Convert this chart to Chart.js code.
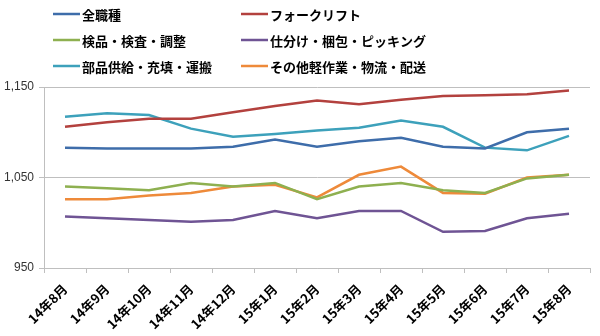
<!DOCTYPE html>
<html>
<head>
<meta charset="utf-8">
<script src="https://cdn.jsdelivr.net/npm/chart.js@4/dist/chart.umd.min.js"></script>
<style>
  html, body { margin: 0; padding: 0; background: #fff; }
  #wrap { width: 600px; height: 336px; position: relative; }
</style>
</head>
<body>
<div id="wrap"><canvas id="c"></canvas></div>
<script>
// Monthly categories (x axis)
const months = ['14年8月', '14年9月', '14年10月', '14年11月', '14年12月', '15年1月', '15年2月',
                '15年3月', '15年4月', '15年5月', '15年6月', '15年7月', '15年8月'];

// Series values
const allJobs     = [1083, 1082, 1082, 1082, 1084, 1092, 1084, 1090, 1094, 1084, 1082, 1100, 1104];
const forklift    = [1106, 1111, 1115, 1115, 1122, 1129, 1135, 1131, 1136, 1140, 1141, 1142, 1146];
const inspection  = [1040, 1038, 1036, 1044, 1040, 1044, 1026, 1040, 1044, 1036, 1033, 1049, 1053];
const picking     = [1007, 1005, 1003, 1001, 1003, 1013, 1005, 1013, 1013, 990, 991, 1005, 1010];
const supply      = [1117, 1121, 1119, 1104, 1095, 1098, 1102, 1105, 1113, 1106, 1083, 1080, 1096];
const otherLight  = [1026, 1026, 1030, 1033, 1040, 1042, 1028, 1053, 1062, 1033, 1032, 1050, 1053];

// Series names
const seriesNames = ['全職種', 'フォークリフト', '検品・検査・調整', '仕分け・梱包・ピッキング',
                     '部品供給・充填・運搬', 'その他軽作業・物流・配送'];

// Y axis tick values
const yTicks = [950, 1050, 1150];

const colors = ['#3E6DAA', '#B3413E', '#8EB050', '#6F5494', '#3DA1BB', '#EE8A3A'];
const values = [allJobs, forklift, inspection, picking, supply, otherLight];

const datasets = values.map((v, i) => ({
  label: seriesNames[i],
  data: v,
  borderColor: colors[i],
  backgroundColor: colors[i],
  borderWidth: 2.5,
  pointRadius: 0,
  tension: 0,
  fill: false
}));

// Two-column legend drawn above the plot
const gridLegend = {
  id: 'gridLegend',
  afterDraw(chart) {
    const ctx = chart.ctx;
    const cols = [53, 241];
    const rows = [14, 40, 66];
    ctx.save();
    ctx.font = 'bold 13px "Noto Sans CJK JP"';
    ctx.textBaseline = 'middle';
    ctx.fillStyle = '#000';
    chart.data.datasets.forEach((ds, i) => {
      const x = cols[i % 2];
      const y = rows[Math.floor(i / 2)];
      ctx.strokeStyle = ds.borderColor;
      ctx.lineWidth = 2.5;
      ctx.beginPath();
      ctx.moveTo(x, y);
      ctx.lineTo(x + 27, y);
      ctx.stroke();
      ctx.fillText(ds.label, x + 29, y + 1);
    });
    ctx.restore();
  }
};

new Chart(document.getElementById('c'), {
  type: 'line',
  data: { labels: months, datasets },
  options: {
    responsive: true,
    maintainAspectRatio: false,
    animation: false,
    layout: { padding: { top: 87, right: 10, left: 0, bottom: 0 } },
    plugins: {
      legend: { display: false },
      tooltip: { enabled: false }
    },
    scales: {
      x: {
        offset: true,
        grid: { offset: true, drawOnChartArea: false, tickLength: 5, color: '#bfbfbf' },
        border: { color: '#bfbfbf' },
        ticks: {
          maxRotation: 45, minRotation: 45, autoSkip: false, padding: 8,
          color: '#000',
          font: { family: '"Noto Sans CJK JP"', size: 13, weight: 'bold' }
        },
        afterFit(scale) { scale.height = 68; }
      },
      y: {
        min: 950,
        max: 1150,
        afterBuildTicks(scale) { scale.ticks = yTicks.map(v => ({ value: v })); },
        grid: { color: '#bfbfbf', tickLength: 5 },
        border: { color: '#bfbfbf' },
        ticks: {
          padding: 5,
          color: '#333',
          font: { family: '"Liberation Sans"', size: 12 },
          callback: v => v.toLocaleString('en-US')
        },
        afterFit(scale) { scale.width = 44; }
      }
    }
  },
  plugins: [gridLegend]
});
</script>
</body>
</html>
